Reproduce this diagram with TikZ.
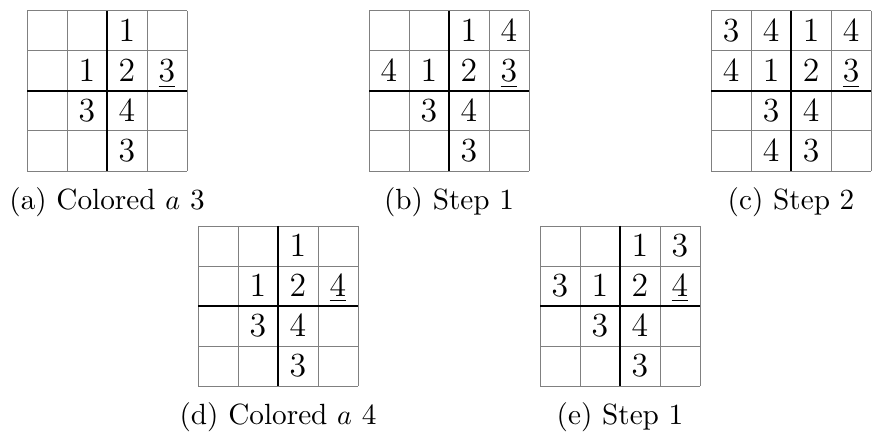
\documentclass[tikz,border=0pt]{standalone}
\newcommand\sudokugrid[5]{% #1 name, #2 x0, #3 y0, #4 entries, #5 caption
  \begin{scope}[shift={(#2,#3)}]
    \foreach \i in {0,...,4} {
      \draw[thinline] (40*\i,0) -- (40*\i,160);
      \draw[thinline] (0,40*\i) -- (160,40*\i);
    }
    \draw[thickline] (80,0) -- (80,160);
    \draw[thickline] (0,80) -- (160,80);
    \foreach \r/\c/\v in {#4}
      \node[cellnum] (#1-\r-\c) at (40*\c+20,40*\r+31) {\v};
    \node[captext] (#1-cap) at (80,199) {#5};
  \end{scope}}
\begin{document}
\begin{tikzpicture}[x=0.35566pt,y=-0.35566pt,
  thinline/.style={draw=black!50,line width=0.35pt},
  thickline/.style={draw=black,line width=0.85pt},
  cellnum/.style={anchor=base,inner sep=0pt,font=\fontsize{12}{14}\selectfont},
  captext/.style={anchor=base,inner sep=0pt,font=\fontsize{10.4}{12.5}\selectfont}]
\useasboundingbox (0,0) rectangle (872,432);
\sudokugrid{a}{27}{11}{0/2/1,1/1/1,1/2/2,1/3/\underline{3},2/1/3,2/2/4,3/2/3}{(a) Colored $a$ 3}
\sudokugrid{b}{369}{11}{0/2/1,0/3/4,1/0/4,1/1/1,1/2/2,1/3/\underline{3},2/1/3,2/2/4,3/2/3}{(b) Step 1}
\sudokugrid{c}{711}{11}{0/0/3,0/1/4,0/2/1,0/3/4,1/0/4,1/1/1,1/2/2,1/3/\underline{3},2/1/3,2/2/4,3/1/4,3/2/3}{(c) Step 2}
\sudokugrid{d}{198}{226}{0/2/1,1/1/1,1/2/2,1/3/\underline{4},2/1/3,2/2/4,3/2/3}{(d) Colored $a$ 4}
\sudokugrid{e}{540}{226}{0/2/1,0/3/3,1/0/3,1/1/1,1/2/2,1/3/\underline{4},2/1/3,2/2/4,3/2/3}{(e) Step 1}
\end{tikzpicture}
\end{document}
